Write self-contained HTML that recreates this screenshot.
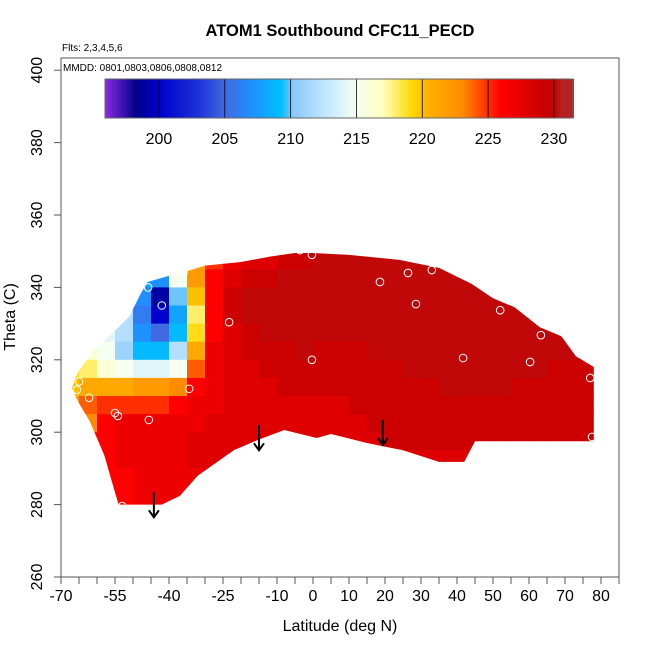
<!DOCTYPE html>
<html><head><meta charset="utf-8"><style>
html,body{margin:0;padding:0;background:#fff;}
svg text{font-family:"Liberation Sans",Arial,sans-serif;}
</style></head><body>
<svg id="chart" width="650" height="650" viewBox="0 0 650 650" xmlns="http://www.w3.org/2000/svg">
<defs><clipPath id="fieldClip"><polygon id="clipPoly" points=""/></clipPath></defs>
<text x="340" y="36" text-anchor="middle" font-size="16.5" font-weight="bold">ATOM1 Southbound CFC11_PECD</text>
<text x="62" y="51" font-size="10">Flts: 2,3,4,5,6</text>
<rect x="61" y="58" width="558" height="519" fill="none" stroke="#555" stroke-width="1"/>
<text x="63" y="71" font-size="10">MMDD: 0801,0803,0806,0808,0812</text>
<g id="field" clip-path="url(#fieldClip)"></g>
<g id="points"></g>
<g id="arrows"></g>
<g id="colorbar"></g>
<g id="axes"></g>
<text x="340" y="631" text-anchor="middle" font-size="16">Latitude (deg N)</text>
<text transform="translate(15,317) rotate(-90)" text-anchor="middle" font-size="16">Theta (C)</text>
</svg>
<script>
// ---- data ----
const latEdges0 = -70, latStep = 5;
const thetaTop = 355, thetaStep = 5;
// rows from theta 350-355 down to 280-285; columns lat -70..-65 ... 75..80
const fieldRows = [
[227,227,227,227,227,226,226,226,226,227,228,228,228,229,230,230,230,230,230,230,230,230,230,230,230,230,230,230,230,230],
[227,227,227,227,227,210,214,222,225,227,228,228,229,229,230,230,230,230,230,230,230,230,230,230,230,230,230,230,230,230],
[227,227,227,227,208,207,215,222,226,228,229,229,230,230,230,230,230,230,230,230,230,230,230,230,230,230,230,230,230,230],
[227,227,227,210,207,199,210,220,226,229,230,230,230,230,230,230,230,230,230,230,230,230,230,230,230,230,230,230,230,230],
[227,227,214,212,206,200,208,218,226,229,230,230,230,230,230,230,230,230,230,230,230,230,230,230,230,230,230,230,230,230],
[218,216,214,212,207,205,209,219,226,228,229,230,230,230,230,230,230,230,230,230,230,230,230,230,230,230,230,230,230,230],
[217,216,215,211,209,209,212,221,227,228,229,229,229,230,229,229,229,230,230,230,230,230,230,230,230,230,230,230,230,230],
[219,218,216,215,214,214,215,224,227,228,228,229,229,229,229,229,229,229,229,230,230,230,230,230,230,230,230,229,229,229],
[220,221,221,221,222,222,223,226,227,228,228,228,229,229,229,229,229,229,229,229,229,230,230,230,230,229,229,229,229,229],
[222,224,225,225,225,225,226,227,227,228,228,228,228,228,228,228,229,229,229,229,229,229,229,229,229,229,229,229,229,229],
[223,223,226,227,227,227,227,227,228,228,228,228,228,228,228,228,228,229,229,229,229,229,229,229,229,229,229,229,229,229],
[226,226,226,227,227,227,227,228,228,228,228,228,228,228,228,228,228,228,229,229,229,229,229,229,229,229,229,229,229,229],
[226,226,226,227,227,227,227,228,228,228,228,228,228,228,228,228,228,228,228,228,228,228,228,228,228,228,228,228,228,228],
[226,226,226,226,227,227,227,227,228,228,228,228,228,228,228,228,228,228,228,228,228,228,228,228,228,228,228,228,228,228],
[226,226,226,226,227,227,227,227,228,228,228,228,228,228,228,228,228,228,228,228,228,228,228,228,228,228,228,228,228,228]
];
const boundaryLat = [-46,-39,-35,-30,-20,-12,-5,0,10,24,35,44,50,56,63,69,73,78,78,60,45,42,35,25,15,5,1,-8,-15,-22,-32,-37,-42,-54,-56,-58,-62,-65,-67,-66,-65,-61,-56,-51,-48];
const boundaryTheta = [341.5,343.5,344.5,346,347,348.5,349.5,349.5,349,347.6,345.4,341,337,334.5,329,326.5,321,318,297.5,297.5,297.5,291.8,291.8,295,297,299.5,298.4,300.6,298,295,288,282.4,280,280,286.8,293.7,303,308,312,315,317,322.7,327,332,338];
const pointLat = [-3.6,-0.3,18.6,26.4,33,28.6,52,63.3,77,60.3,41.7,-0.3,-23.3,-42,-45.8,-34.4,-65,-65.6,-62.2,-55,-54.2,-45.6,77.5,-53,-36];
const pointTheta = [350.3,349,341.5,344,344.8,335.4,333.7,326.8,315,319.4,320.5,320,330.4,335,340,312,314,311.7,309.5,305.3,304.5,303.4,298.7,279.6,344];
const arrowLat = [-44.2,-15,19.4];
const arrowTop = [283.5,302,303.4];
const arrowBottom = [276.5,295,296.5];
const xTickVals = [-70,-65,-60,-55,-50,-45,-40,-35,-30,-25,-20,-15,-10,-5,0,5,10,15,20,25,30,35,40,45,50,55,60,65,70,75,80,85];
const xTickLabels = ["-70","-55","-40","-25","-10","0","10","20","30","40","50","60","70","80"];
const yTickLabels = ["260","280","300","320","340","360","380","400"];
const cbTickLabels = ["200","205","210","215","220","225","230"];
const cbMin = 195.9, cbMax = 231.45;

// ---- scales ----
const X0=61, X1=619, Y0=577, Y1=58;
const xs = v => X0 + (v - (-70)) * (X1 - X0) / 155;
const ys = v => Y0 - (v - 260) * 3.62;
const cbx = v => 105 + (v - cbMin) * (573 - 105) / (cbMax - cbMin);

const stops = [[195.9,[138,43,226]],[198.3,[0,0,139]],[200,[0,0,205]],[203,[30,50,215]],[205,[65,105,225]],[207,[30,144,255]],[209.3,[0,191,255]],[210.2,[140,200,250]],[213,[200,235,255]],[215,[245,255,240]],[217,[255,255,190]],[219.3,[255,215,0]],[220.5,[255,175,0]],[223,[255,140,0]],[224.5,[255,70,0]],[226,[255,0,0]],[229,[205,0,0]],[230.2,[190,10,10]],[230.6,[178,34,34]],[231.5,[178,34,34]]];
function cmap(v){
  if(v<=stops[0][0]) return 'rgb('+stops[0][1]+')';
  for(let i=1;i<stops.length;i++){ if(v<=stops[i][0]){const a=stops[i-1],b=stops[i];const t=(v-a[0])/(b[0]-a[0]);
    const c=a[1].map((x,k)=>Math.round(x+(b[1][k]-x)*t));return 'rgb('+c.join(',')+')';}}
  return 'rgb('+stops[stops.length-1][1]+')';
}
const NS='http://www.w3.org/2000/svg';
function mk(tag,attrs,parent){const e=document.createElementNS(NS,tag);for(const k in attrs)e.setAttribute(k,attrs[k]);parent.appendChild(e);return e;}

document.getElementById('clipPoly').setAttribute('points', boundaryLat.map((l,i)=>xs(l)+','+ys(boundaryTheta[i])).join(' '));

const field=document.getElementById('field');
fieldRows.forEach((row,r)=>{
  row.forEach((v,c)=>{
    const la=latEdges0+c*latStep, th=thetaTop-r*thetaStep;
    const x=xs(la), y=ys(th);
    const e=mk('rect',{x:x,y:y,width:xs(la+latStep)-x+0.5,height:ys(th-thetaStep)-y+0.5,fill:cmap(v)},field);
    
    
  });
});

const pts=document.getElementById('points');
pointLat.forEach((l,i)=>{
  const e=mk('circle',{cx:xs(l),cy:ys(pointTheta[i]),r:3.8,fill:'none',stroke:'#fff','stroke-width':1},pts);
  
  
});

const arr=document.getElementById('arrows');
arrowLat.forEach((l,i)=>{
  const x=xs(l), yt=ys(arrowTop[i]), yb=ys(arrowBottom[i]);
  const g=mk('g',{},arr);
  
  
  mk('line',{x1:x,y1:yt,x2:x,y2:yb,stroke:'#000','stroke-width':2},g);
  mk('polyline',{points:(x-5)+','+(yb-7)+' '+x+','+yb+' '+(x+5)+','+(yb-7),fill:'none',stroke:'#000','stroke-width':2},g);
});

const cb=document.getElementById('colorbar');
for(let v=cbMin; v<cbMax; v+=0.1){
  mk('rect',{x:cbx(v),y:79,width:cbx(v+0.1)-cbx(v)+0.4,height:39,fill:cmap(v+0.05)},cb);
}
cbTickLabels.forEach(t=>{
  const v=+t;
  mk('line',{x1:cbx(v),y1:79,x2:cbx(v),y2:118,stroke:'#000','stroke-width':0.8},cb);
  const e=mk('text',{x:cbx(v),y:144,'text-anchor':'middle','font-size':16},cb);
  e.textContent=t;
  
  
});
mk('rect',{x:105,y:79,width:468,height:39,fill:'none',stroke:'#666','stroke-width':1},cb);

const ax=document.getElementById('axes');
xTickVals.forEach(v=>{mk('line',{x1:xs(v),y1:Y0,x2:xs(v),y2:Y0+7,stroke:'#555','stroke-width':1},ax);});
xTickLabels.forEach(t=>{
  const e=mk('text',{x:xs(+t),y:Y0+24,'text-anchor':'middle','font-size':16},ax);
  e.textContent=t;
  
  
});
yTickLabels.forEach(t=>{
  const y=ys(+t);
  mk('line',{x1:X0-7,y1:y,x2:X0,y2:y,stroke:'#555','stroke-width':1},ax);
  const e=mk('text',{transform:'translate(42,'+y+') rotate(-90)','text-anchor':'middle','font-size':16},ax);
  e.textContent=t;
  
  
});
</script>
</body></html>
